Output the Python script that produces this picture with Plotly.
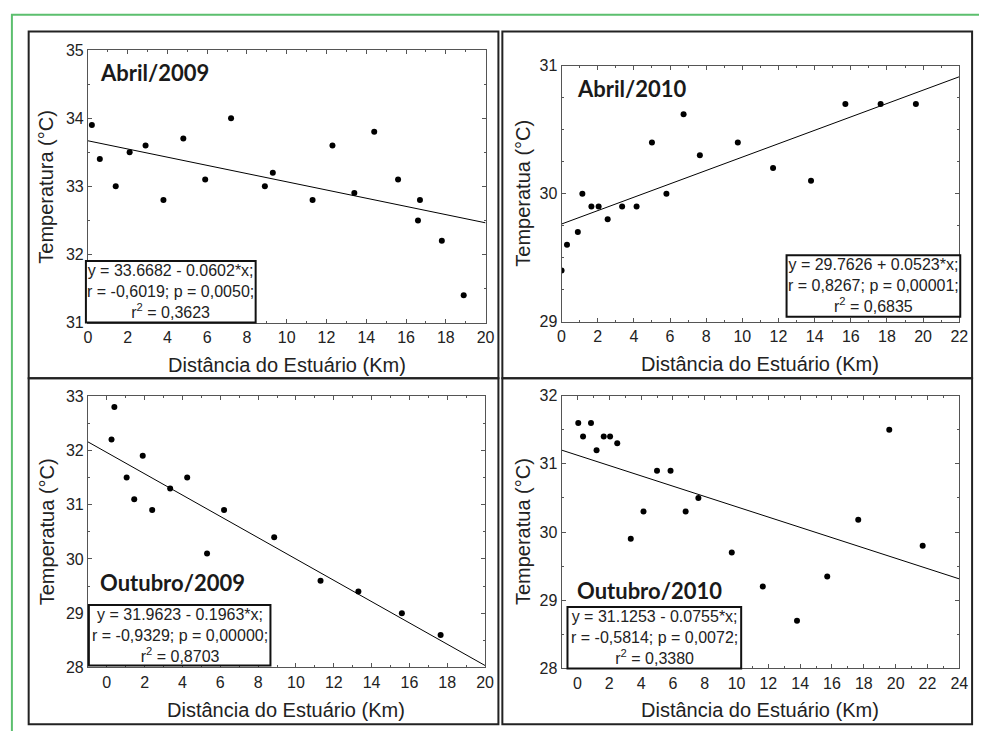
import plotly.graph_objects as go

# ---------------- data ----------------
abr09_x = [0.2, 0.6, 1.4, 2.1, 2.9, 3.8, 4.8, 5.9, 7.2, 8.9, 9.3, 11.3, 12.3, 13.4, 14.4, 15.6, 16.7, 16.6, 17.8, 18.9]
abr09_y = [33.9, 33.4, 33.0, 33.5, 33.6, 32.8, 33.7, 33.1, 34.0, 33.0, 33.2, 32.8, 33.6, 32.9, 33.8, 33.1, 32.8, 32.5, 32.2, 31.4]

abr10_x = [0.0, 0.3, 0.9, 1.15, 1.65, 2.05, 2.55, 3.35, 4.15, 5.0, 5.8, 6.75, 7.65, 9.75, 11.7, 13.8, 15.7, 17.65, 19.6]
abr10_y = [29.4, 29.6, 29.7, 30.0, 29.9, 29.9, 29.8, 29.9, 29.9, 30.4, 30.0, 30.62, 30.3, 30.4, 30.2, 30.1, 30.7, 30.7, 30.7]

out09_x = [0.25, 0.4, 1.05, 1.45, 1.9, 2.4, 3.35, 4.25, 5.3, 6.2, 8.85, 11.3, 13.3, 15.6, 17.65]
out09_y = [32.2, 32.8, 31.5, 31.1, 31.9, 30.9, 31.3, 31.5, 30.1, 30.9, 30.4, 29.6, 29.4, 29.0, 28.6]

out10_x = [0.05, 0.35, 0.85, 1.2, 1.65, 2.05, 2.5, 3.35, 4.15, 5.0, 5.85, 6.8, 7.6, 9.7, 11.65, 13.8, 15.7, 17.65, 19.6, 21.7]
out10_y = [31.6, 31.4, 31.6, 31.2, 31.4, 31.4, 31.3, 29.9, 30.3, 30.9, 30.9, 30.3, 30.5, 29.7, 29.2, 28.7, 29.35, 30.18, 31.5, 29.8]

titles = ["Abril/2009", "Abril/2010", "Outubro/2009", "Outubro/2010"]
y_titles = ["Temperatura (°C)", "Temperatua (°C)", "Temperatua (°C)", "Temperatua (°C)"]
x_title = "Distância do Estuário (Km)"
intercepts = [33.6682, 29.7626, 31.9623, 31.1253]
slopes = [-0.0602, 0.0523, -0.1963, -0.0755]
stats = [
    ["y = 33.6682 - 0.0602*x;", "r = -0,6019; p = 0,0050;", "r<sup>2</sup> = 0,3623"],
    ["y = 29.7626 + 0.0523*x;", "r = 0,8267; p = 0,00001;", "r<sup>2</sup> = 0,6835"],
    ["y = 31.9623 - 0.1963*x;", "r = -0,9329; p = 0,00000;", "r<sup>2</sup> = 0,8703"],
    ["y = 31.1253 - 0.0755*x;", "r = -0,5814; p = 0,0072;", "r<sup>2</sup> = 0,3380"],
]
x_ranges = [[0, 20], [0, 22], [-1, 20], [-1, 24]]
y_ranges = [[31, 35], [29, 31], [28, 33], [28, 32]]
y_dticks = [1, 1, 1, 1]
x_dticks = [2, 2, 2, 2]

xs = [abr09_x, abr10_x, out09_x, out10_x]
ys = [abr09_y, abr10_y, out09_y, out10_y]

# ---------------- layout geometry (pixels, page coordinates) ----------------
W, H = 988, 740
def px(x):
    return x / W
def py(y):
    return 1 - y / H

plot_boxes = [  # left, right, top, bottom
    (85, 488, 43, 322),
    (565, 968, 59, 321),
    (85, 487.5, 397.3, 675),
    (565, 968, 396.7, 676),
]
title_pos = [(95, 66), (579, 82), (95, 588), (579, 596)]
stat_boxes = [
    (83, 255, 259, 322),
    (793, 969, 253, 316),
    (86, 270, 611, 673),
    (571, 747, 613, 676),
]
ytitle_x = [43, 526, 43, 526]
y_minor = [0.5, 0.25, 0.5, 0.5]

fig = go.Figure()
shapes = []
annotations = []
FONT = "Arial"

for i in range(4):
    sfx = "" if i == 0 else str(i + 1)
    xa, ya = "x" + sfx, "y" + sfx
    l, r, t, b = plot_boxes[i]
    fig.add_trace(go.Scatter(x=xs[i], y=ys[i], mode="markers", xaxis=xa, yaxis=ya,
                             marker=dict(color="black", size=6), showlegend=False, cliponaxis=True,
                             hoverinfo="skip"))
    x0, x1 = x_ranges[i]
    fig.add_trace(go.Scatter(x=[x0, x1], y=[intercepts[i] + slopes[i] * x0, intercepts[i] + slopes[i] * x1],
                             mode="lines", xaxis=xa, yaxis=ya, line=dict(color="black", width=1),
                             showlegend=False, hoverinfo="skip"))
    axis_common = dict(showgrid=False, zeroline=False, showline=True, linecolor="#555555", linewidth=1,
                       mirror="ticks", ticks="inside", ticklen=4, tickcolor="#555555",
                       tickfont=dict(family=FONT, size=16, color="#222222"))
    fig.update_layout(**{
        "xaxis" + sfx: dict(domain=[px(l), px(r)], range=x_ranges[i], anchor=ya, dtick=x_dticks[i], tick0=0,
                            minor=dict(ticks="inside", ticklen=2, dtick=1, tickcolor="#555555"), **axis_common),
        "yaxis" + sfx: dict(domain=[py(b), py(t)], range=y_ranges[i], anchor=xa, dtick=y_dticks[i],
                            minor=dict(ticks="inside", ticklen=2, dtick=y_minor[i], tickcolor="#555555"),
                            **axis_common),
    })
    tx, ty = title_pos[i]
    annotations.append(dict(x=px(tx), y=py(ty), xref="paper", yref="paper", text="<b>" + titles[i] + "</b>",
                            showarrow=False, xanchor="left", yanchor="middle",
                            font=dict(family="Lato", size=22, color="#1a1a1a")))
    bl, br, bt, bb = stat_boxes[i]
    shapes.append(dict(type="rect", xref="paper", yref="paper", x0=px(bl), x1=px(br), y0=py(bb), y1=py(bt),
                       line=dict(color="#111111", width=2), fillcolor="white", layer="above"))
    annotations.append(dict(x=px((bl + br) / 2), y=py((bt + bb) / 2), xref="paper", yref="paper",
                            text="<br>".join(stats[i]), showarrow=False, xanchor="center", yanchor="middle",
                            align="center", font=dict(family=FONT, size=16, color="#222222")))
    annotations.append(dict(x=px(ytitle_x[i]), y=py((t + b) / 2), xref="paper", yref="paper", text=y_titles[i],
                            textangle=-90, showarrow=False, xanchor="center", yanchor="middle",
                            font=dict(family=FONT, size=20, color="#222222")))
    annotations.append(dict(x=px((l + r) / 2), y=py(b + 43), xref="paper", yref="paper", text=x_title,
                            showarrow=False, xanchor="center", yanchor="middle",
                            font=dict(family=FONT, size=20, color="#222222")))

# panel frames
frames = [(25, 501, 24, 379), (505, 981, 24, 379), (25, 501, 379, 733), (505, 981, 379, 733)]
for (l, r, t, b) in frames:
    shapes.append(dict(type="rect", xref="paper", yref="paper", x0=px(l), x1=px(r), y0=py(b), y1=py(t),
                       line=dict(color="#222222", width=2), layer="below"))
# green page border
shapes.append(dict(type="path", xref="paper", yref="paper",
                   path=f"M {px(8)} {py(740)} L {px(8)} {py(7)} L {px(988)} {py(7)}",
                   line=dict(color="#5cbf6e", width=2)))

fig.update_layout(width=W, height=H, margin=dict(l=0, r=0, t=0, b=0), paper_bgcolor="white",
                  plot_bgcolor="white", shapes=shapes, annotations=annotations, showlegend=False,
                  font=dict(family=FONT), hovermode=False)

fig.write_html("out.html", config={"displayModeBar": False},
               post_script="document.body.style.margin='0';document.documentElement.style.overflow='hidden';")
